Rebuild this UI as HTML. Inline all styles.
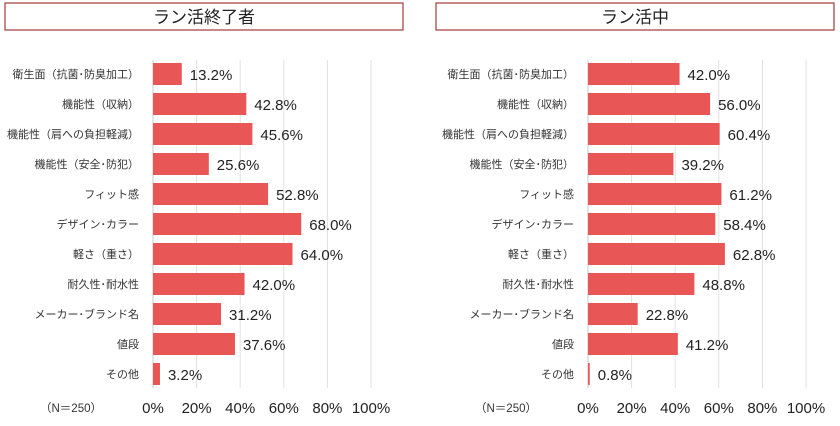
<!DOCTYPE html>
<html><head><meta charset="utf-8"><style>
body{margin:0;background:#fff;width:840px;height:421px;overflow:hidden;font-family:"Liberation Sans","Noto Sans CJK JP",sans-serif;}
</style></head><body>
<svg width="840" height="421" xmlns="http://www.w3.org/2000/svg">
<g id="c1"></g>
<g id="c2"></g>
</svg>
<script>
const categories=["衛生面（抗菌･防臭加工）","機能性（収納）","機能性（肩への負担軽減）","機能性（安全･防犯）","フィット感","デザイン･カラー","軽さ（重さ）","耐久性･耐水性","メーカー･ブランド名","値段","その他"];
const seriesFinished=[13.2,42.8,45.6,25.6,52.8,68.0,64.0,42.0,31.2,37.6,3.2];
const seriesActive=[42.0,56.0,60.4,39.2,61.2,58.4,62.8,48.8,22.8,41.2,0.8];
const tickValues=[0,20,40,60,80,100];
const titles=["ラン活終了者","ラン活中"];
const NS="http://www.w3.org/2000/svg";
function mk(p,t,a,txt){const e=document.createElementNS(NS,t);for(const k in a)e.setAttribute(k,a[k]);if(txt!==undefined)e.textContent=txt;p.appendChild(e);return e;}
function draw(g,title,vals,boxX,x0,x100){
  const xs=v=>x0+(x100-x0)*v/100;
  const ys=i=>74+i*30;
  const b=mk(g,'rect',{x:boxX,y:3,width:398,height:27,fill:'#fff',stroke:'#a33a3a','stroke-width':1.2});
  
  
  const t=mk(g,'text',{x:boxX+199,y:23,'text-anchor':'middle','font-size':17,fill:'#222'},title);
  
  
  tickValues.forEach(v=>{
    const l=mk(g,'line',{x1:xs(v),x2:xs(v),y1:60,y2:388,stroke:'#e0e0e0','stroke-width':1});
    
    
    const tl=mk(g,'text',{x:xs(v),y:413,'text-anchor':'middle','font-size':15,fill:'#222'},v+'%');
    
    
  });
  const ax=mk(g,'line',{x1:x0,x2:x0,y1:60,y2:388,stroke:'#c8c8c8','stroke-width':1});
  
  
  categories.forEach((c,i)=>{
    const cl=mk(g,'text',{x:x0-14,y:ys(i)+4,'text-anchor':'end','font-size':11,fill:'#333'},c);
    
    
    const r=mk(g,'rect',{x:x0,y:ys(i)-11,width:xs(vals[i])-x0,height:22,fill:'#e85656'});
    
    
    const vl=mk(g,'text',{x:xs(vals[i])+8,y:ys(i)+6,'font-size':15,fill:'#222'},vals[i].toFixed(1)+'%');
    
    
  });
  const n=mk(g,'text',{x:x0-113,y:412,'font-size':11.5,fill:'#333'},'（N＝250）');
  
  
}
draw(document.getElementById('c1'),titles[0],seriesFinished,5,153,371);
draw(document.getElementById('c2'),titles[1],seriesActive,436,588,806);
</script>
</body></html>
